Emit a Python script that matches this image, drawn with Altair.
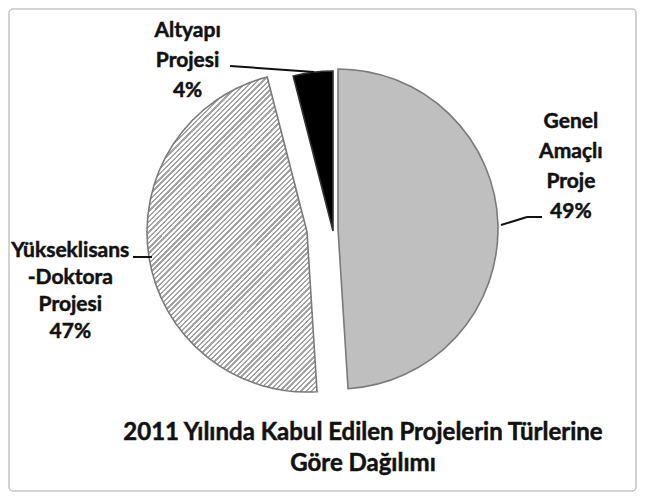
import math
import altair as alt
import pandas as pd

# ---- data ----
categories = ["Genel Amaçlı Proje", "Yükseklisans-Doktora Projesi", "Altyapı Projesi"]
label_names = ["Genel\nAmaçlı\nProje", "Yükseklisans\n-Doktora\nProjesi", "Altyapı\nProjesi"]
values = [49, 47, 4]
title_lines = ["2011 Yılında Kabul Edilen Projelerin Türlerine", "Göre Dağılımı"]

df = pd.DataFrame({"kategori": categories, "etiket": label_names, "deger": values})

# ---- layout / style ----
W, H = 629, 484
CX, CY, R = 330, 221, 160
FONT = "Lato"
WEIGHT = "bold"
INK = "#111111"
theta_scale = alt.Scale(domain=[0, 100], range=[0, 2 * math.pi])

# hatch pattern via a striped linear gradient
N = 92
stops = []
for k in range(N):
    a = k / N
    b = (k + 0.55) / N
    c = (k + 1) / N
    stops += [
        alt.GradientStop(color="#ffffff", offset=a),
        alt.GradientStop(color="#ffffff", offset=b),
        alt.GradientStop(color="#a4a4a4", offset=b),
        alt.GradientStop(color="#a4a4a4", offset=c),
    ]
hatch = alt.Gradient(gradient="linear", stops=stops, x1=0, y1=0, x2=0.644, y2=1.192)

base = alt.Chart(df).transform_window(
    bitis="sum(deger)", frame=[None, 0]
).transform_calculate(
    baslangic="datum.bitis - datum.deger",
    orta="datum.bitis - datum.deger / 2",
    metin="datum.etiket + '\\n' + datum.deger + '%'",
)

theta = alt.Theta("baslangic:Q", stack=None, scale=theta_scale)
theta2 = alt.Theta2("bitis:Q")


def slice_layer(cat, fill, stroke, dx, dy):
    return base.transform_filter(alt.datum.kategori == cat).mark_arc(
        radius=R, x=CX, y=CY, xOffset=dx, yOffset=dy,
        fill=fill, stroke=stroke, strokeWidth=1.6,
    ).encode(theta=theta, theta2=theta2)


def label_layer(cat, radius, dx, dy, lh, nlines):
    return base.transform_filter(alt.datum.kategori == cat).mark_text(
        radius=radius, x=CX, y=CY, dx=dx, dy=dy - (nlines - 1) * lh / 2,
        font=FONT, fontSize=21, fontWeight=WEIGHT, lineBreak="\n",
        lineHeight=lh, align="center", baseline="middle", color=INK,
        stroke=INK, strokeWidth=0.5,
    ).encode(theta=alt.Theta("orta:Q", stack=None, scale=theta_scale), text="metin:N")


one = pd.DataFrame({"k": [0]})


def rule(x1, y1, x2, y2):
    return alt.Chart(one).mark_rule(color=INK, strokeWidth=2).encode(
        x=alt.value(x1), y=alt.value(y1), x2=alt.value(x2), y2=alt.value(y2)
    )


border = alt.Chart(one).mark_rect(
    fillOpacity=0, stroke="#c4c4c4", strokeWidth=1.5, cornerRadius=4
).encode(x=alt.value(1), x2=alt.value(W - 1), y=alt.value(1), y2=alt.value(H - 1))

title_df = pd.DataFrame({"baslik": ["\n".join(title_lines)]})
title = alt.Chart(title_df).mark_text(
    x=355, y=440 - 15.5, font=FONT, fontSize=24, fontWeight=WEIGHT, lineBreak="\n",
    lineHeight=31, align="center", baseline="middle", color=INK,
    stroke=INK, strokeWidth=0.5,
).encode(text="baslik:N")

chart = alt.layer(
    border,
    slice_layer(categories[0], "#bfbfbf", "#7a7a7a", 0, 0),
    slice_layer(categories[1], hatch, "#7a7a7a", -31, 3),
    slice_layer(categories[2], "#000000", "#333333", -5, 2),
    rule(493, 217, 519, 209),
    rule(519, 209, 534, 209),
    rule(125, 249, 144, 249),
    rule(222, 58, 306, 64),
    label_layer(categories[0], 233, 0, -55, 30, 4),
    label_layer(categories[1], 271, 0, 20, 27, 4),
    label_layer(categories[2], 171, -129, 2, 30, 3),
    title,
).properties(
    width=W, height=H, padding=0, autosize="none", background="#ffffff"
).configure_view(stroke=None)

chart.save("out.html", embed_options={"renderer": "svg", "actions": False})
